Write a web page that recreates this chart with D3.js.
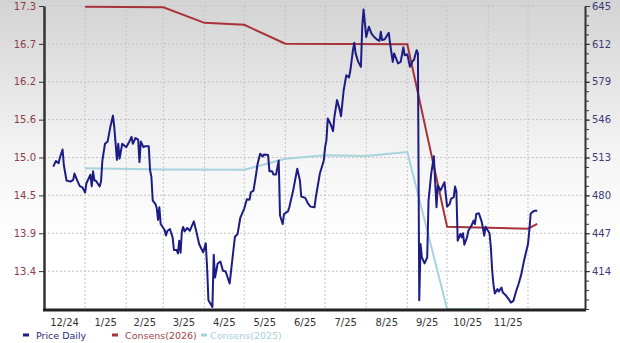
<!DOCTYPE html>
<html>
<head>
<meta charset="utf-8">
<script src="https://cdn.jsdelivr.net/npm/d3@7"></script>
<style>
  body { margin: 0; background: #fff; }
  svg text { font-family: "DejaVu Sans", Verdana, sans-serif; }
</style>
</head>
<body>
<div id="chart"></div>
<script>

// price daily (right axis)
var priceDaily = [
  ["2024-12-08",505],["2024-12-10",510],["2024-12-12",508],["2024-12-13",513],["2024-12-15",520],
  ["2024-12-16",506],["2024-12-18",493],["2024-12-21",492],["2024-12-23",493.5],["2024-12-24",499],
  ["2024-12-26",493],["2024-12-28",488],["2024-12-30",487],["2025-01-01",482.5],["2025-01-02",490.6],
  ["2025-01-05",498],["2025-01-06",488],["2025-01-07",501],["2025-01-08",493],["2025-01-09",493],
  ["2025-01-12",487.7],["2025-01-13",492],["2025-01-14",510],["2025-01-16",525],["2025-01-18",527],
  ["2025-01-20",539.5],["2025-01-22",549.5],["2025-01-23",539.5],["2025-01-25",511],["2025-01-26",525],
  ["2025-01-27",512],["2025-01-29",525],["2025-02-01",522],["2025-02-03",526],["2025-02-05",531],
  ["2025-02-06",525],["2025-02-08",530],["2025-02-10",528.5],["2025-02-11",509],["2025-02-12",527],
  ["2025-02-14",522],["2025-02-15",522.7],["2025-02-18",522.7],["2025-02-19",502],["2025-02-20",496],
  ["2025-02-21",475.5],["2025-02-23",472.6],["2025-02-24",469],["2025-02-25",458.6],["2025-02-26",469.6],
  ["2025-02-27",455],["2025-03-02",449.8],["2025-03-03",445],["2025-03-04",449],["2025-03-06",450.7],
  ["2025-03-08",443.4],["2025-03-09",432.4],["2025-03-11",432.4],["2025-03-12",429.4],["2025-03-13",440.5],
  ["2025-03-14",430],["2025-03-15",449],["2025-03-16",452.5],["2025-03-17",448.6],["2025-03-19",451.6],
  ["2025-03-21",449.2],["2025-03-24",457.4],["2025-03-26",447.8],["2025-03-28",437.6],["2025-03-31",430.3],
  ["2025-04-02",438.2],["2025-04-03",417.2],["2025-04-04",388.7],["2025-04-07",382.8],["2025-04-08",428.3],
  ["2025-04-09",408.4],["2025-04-11",420.7],["2025-04-13",422.4],["2025-04-15",414.3],["2025-04-17",413.7],
  ["2025-04-20",403.2],["2025-04-22",423.6],["2025-04-24",444],["2025-04-26",446.4],["2025-04-28",460.3],
  ["2025-05-01",468.5],["2025-05-03",476.6],["2025-05-05",476.1],["2025-05-06",482.7],["2025-05-08",484.2],
  ["2025-05-10",498.8],["2025-05-11",506.9],["2025-05-13",516.3],["2025-05-15",513.9],["2025-05-16",515.7],
  ["2025-05-19",515.1],["2025-05-20",501.1],["2025-05-22",501.1],["2025-05-23",498.2],["2025-05-25",498.2],
  ["2025-05-27",510.4],["2025-05-28",462.4],["2025-05-30",455],["2025-05-31",463.8],["2025-06-03",466.1],
  ["2025-06-04",469.6],["2025-06-07",484.8],["2025-06-10",503.2],["2025-06-12",493],["2025-06-13",479],
  ["2025-06-16",477.8],["2025-06-18",473.1],["2025-06-20",470.2],["2025-06-23",469.6],["2025-06-24",478.4],
  ["2025-06-27",498.8],["2025-06-30",510.4],["2025-07-01",522],["2025-07-02",528],["2025-07-03",547],
  ["2025-07-05",542.5],["2025-07-07",536],["2025-07-08",548.3],["2025-07-10",563],["2025-07-12",554.7],
  ["2025-07-13",549],["2025-07-15",571.6],["2025-07-17",584.7],["2025-07-19",582.7],["2025-07-20",588.5],
  ["2025-07-22",606.5],["2025-07-23",613],["2025-07-24",603.7],["2025-07-26",596.3],["2025-07-28",592],
  ["2025-07-29",627],["2025-07-30",642],["2025-08-01",618],["2025-08-03",627],["2025-08-05",621],
  ["2025-08-07",618],["2025-08-09",616],["2025-08-11",614.7],["2025-08-12",622.5],["2025-08-13",615.3],
  ["2025-08-15",616],["2025-08-18",621.7],["2025-08-19",612.4],["2025-08-21",596.3],["2025-08-22",603.7],
  ["2025-08-25",595],["2025-08-27",596.3],["2025-08-29",609],["2025-08-30",602],["2025-09-01",603],
  ["2025-09-03",592],["2025-09-05",597],["2025-09-06",598],["2025-09-08",606.5],["2025-09-09",603.7],
  ["2025-09-10",388.7],["2025-09-11",437.6],["2025-09-12",426],["2025-09-14",420.7],["2025-09-16",426],
  ["2025-09-17",475.5],["2025-09-19",498.8],["2025-09-21",514],["2025-09-23",469.6],["2025-09-24",488.6],
  ["2025-09-26",484.2],["2025-09-29",491.5],["2025-10-01",470.2],["2025-10-03",472.6],["2025-10-04",477],
  ["2025-10-06",478.4],["2025-10-07",487.7],["2025-10-08",483.6],["2025-10-09",440.5],["2025-10-11",446.4],
  ["2025-10-12",443.4],["2025-10-13",447],["2025-10-14",437],["2025-10-16",443.4],["2025-10-17",449.2],
  ["2025-10-19",452.7],["2025-10-21",458],["2025-10-22",455],["2025-10-23",463.8],["2025-10-25",464.4],
  ["2025-10-27",457.4],["2025-10-28",451.6],["2025-10-29",444.9],["2025-10-30",452.7],["2025-11-02",447],
  ["2025-11-03",434.7],["2025-11-04",414.3],["2025-11-05",402],["2025-11-06",394.5],["2025-11-08",398.3],
  ["2025-11-09",396.2],["2025-11-11",399.7],["2025-11-12",395.3],["2025-11-14",393.3],["2025-11-17",388.7],
  ["2025-11-18",386.6],["2025-11-20",388.1],["2025-11-22",396.2],["2025-11-24",403.2],["2025-11-26",411.4],
  ["2025-11-28",423],["2025-12-01",437.6],["2025-12-02",449.2],["2025-12-03",463.8],["2025-12-04",465.2],
  ["2025-12-06",466.7],["2025-12-08",466.7]
];

// consensus EPS (left axis)
var consens2026 = [
  ["2025-01-01",17.29],["2025-03-01",17.28],["2025-04-01",17.05],["2025-05-01",17.02],
  ["2025-06-01",16.74],["2025-09-01",16.73],["2025-10-01",14.02],["2025-12-01",13.99],
  ["2025-12-08",14.06]
];
var consens2025 = [
  ["2025-01-01",14.89],["2025-03-01",14.87],["2025-05-01",14.865],["2025-06-01",15.03],
  ["2025-07-01",15.08],["2025-08-01",15.07],["2025-09-01",15.13],["2025-10-01",12.7],
  ["2025-11-01",12.7]
];

var leftTicks = [13.359, 13.922, 14.485, 15.048, 15.611, 16.174, 16.737, 17.3];
var rightTicks = [414, 447, 480, 513, 546, 579, 612, 645];
var monthLabels = ["12/24","1/25","2/25","3/25","4/25","5/25","6/25","7/25","8/25","9/25","10/25","11/25"];

var legendItems = [
  { name: "Price Daily", color: "#1c1c86", text: "#2b2b78" },
  { name: "Consens(2026)", color: "#a8323a", text: "#a4434a" },
  { name: "Consens(2025)", color: "#a6d3dc", text: "#a9d0da" }
];

var W = 620, H = 343;
var margin = { top: 6, right: 35, bottom: 34, left: 44 };

var parse = d3.timeParse("%Y-%m-%d");

var svg = d3.select("#chart").append("svg")
    .attr("width", W)
    .attr("height", H);

// background gradient
var grad = svg.append("defs").append("linearGradient")
    .attr("id", "bg").attr("x1", 0).attr("y1", 0).attr("x2", 0).attr("y2", 1);
grad.append("stop").attr("offset", "0%").attr("stop-color", "#d3d3d3");
grad.append("stop").attr("offset", "45%").attr("stop-color", "#f4f4f4");
grad.append("stop").attr("offset", "70%").attr("stop-color", "#ffffff");

svg.append("rect").attr("width", W).attr("height", H).attr("fill", "url(#bg)");

var x = d3.scaleTime()
    .domain([parse("2024-12-01"), parse("2026-01-13")])
    .range([margin.left, W - margin.right]);

var yL = d3.scaleLinear()
    .domain([12.796, 17.3])
    .range([H - margin.bottom, margin.top])
    .clamp(true);

var yR = d3.scaleLinear()
    .domain([381, 645])
    .range([H - margin.bottom, margin.top]);

// gridlines
var gridMonths = d3.timeMonth.range(parse("2025-01-01"), parse("2025-12-02"));
svg.append("g").selectAll("line").data(gridMonths).enter().append("line")
    .attr("x1", function(d){ return x(d); })
    .attr("x2", function(d){ return x(d); })
    .attr("y1", margin.top)
    .attr("y2", H - margin.bottom)
    .attr("stroke", "#c4c4c4")
    .attr("stroke-dasharray", "2,2");

svg.append("g").selectAll("line").data(rightTicks).enter().append("line")
    .attr("x1", margin.left)
    .attr("x2", W - margin.right)
    .attr("y1", function(d){ return yR(d); })
    .attr("y2", function(d){ return yR(d); })
    .attr("stroke", "#c4c4c4")
    .attr("stroke-dasharray", "2,2");

// lines
var lineL = d3.line()
    .x(function(d){ return x(parse(d[0])); })
    .y(function(d){ return yL(d[1]); });
var lineR = d3.line()
    .x(function(d){ return x(parse(d[0])); })
    .y(function(d){ return yR(d[1]); });

svg.append("path").datum(consens2025)
    .attr("d", lineL).attr("fill", "none")
    .attr("stroke", "#a6d3dc").attr("stroke-width", 2);

svg.append("path").datum(consens2026)
    .attr("d", lineL).attr("fill", "none")
    .attr("stroke", "#a8323a").attr("stroke-width", 2);

svg.append("path").datum(priceDaily)
    .attr("d", lineR).attr("fill", "none")
    .attr("stroke", "#1c1c86").attr("stroke-width", 2)
    .attr("stroke-linejoin", "round");

// left axis
var gL = svg.append("g")
    .attr("transform", "translate(" + margin.left + ",0)")
    .call(d3.axisLeft(yL).tickValues(leftTicks).tickFormat(d3.format(".1f"))
        .tickSize(5).tickSizeOuter(0).tickPadding(3));
gL.select(".domain").attr("stroke", "#333").attr("stroke-width", 2.5);
gL.selectAll(".tick line").attr("stroke", "#333");
gL.selectAll("text").attr("fill", "#8e3b48").attr("font-size", 10)
    .style("font-family", "'DejaVu Sans', sans-serif");

// right axis, minor ticks first
var minorTicks = d3.range(381, 646, 8.25);
svg.append("g")
    .attr("transform", "translate(" + (W - margin.right) + ",0)")
    .call(d3.axisRight(yR).tickValues(minorTicks).tickFormat("").tickSize(4).tickSizeOuter(0))
    .call(function(g){ g.select(".domain").remove(); g.selectAll("line").attr("stroke", "#333"); });

var gR = svg.append("g")
    .attr("transform", "translate(" + (W - margin.right) + ",0)")
    .call(d3.axisRight(yR).tickValues(rightTicks).tickFormat(d3.format("d"))
        .tickSize(5).tickSizeOuter(0).tickPadding(2));
gR.select(".domain").attr("stroke", "#333").attr("stroke-width", 2);
gR.selectAll(".tick line").attr("stroke", "#333");
gR.selectAll("text").attr("fill", "#3b3b78").attr("font-size", 10)
    .style("font-family", "'DejaVu Sans', sans-serif");

// bottom axis line
svg.append("line")
    .attr("x1", margin.left - 1).attr("x2", W - margin.right + 1)
    .attr("y1", H - margin.bottom + 1).attr("y2", H - margin.bottom + 1)
    .attr("stroke", "#222").attr("stroke-width", 3);

// month labels centred in each month
var labelMonths = d3.timeMonth.range(parse("2024-12-01"), parse("2025-12-01"));
svg.append("g").selectAll("text").data(labelMonths).enter().append("text")
    .attr("x", function(d){ return (x(d) + x(d3.timeMonth.offset(d, 1))) / 2; })
    .attr("y", H - 17)
    .attr("text-anchor", "middle")
    .attr("font-size", 10)
    .attr("fill", "#333")
    .text(function(d, i){ return monthLabels[i]; });

// legend
var legendX = [23, 112, 201];
var leg = svg.append("g").selectAll("g").data(legendItems).enter().append("g")
    .attr("transform", function(d, i){ return "translate(" + legendX[i] + "," + (H - 8) + ")"; });
leg.append("rect")
    .attr("x", 0).attr("y", -1.5).attr("width", 6).attr("height", 3)
    .attr("fill", function(d){ return d.color; });
leg.append("text")
    .attr("x", function(d, i){ return i === 2 ? 9 : 13; })
    .attr("y", 3.5)
    .attr("font-size", 9.5)
    .attr("fill", function(d){ return d.text; })
    .text(function(d){ return d.name; });

</script>
</body>
</html>
